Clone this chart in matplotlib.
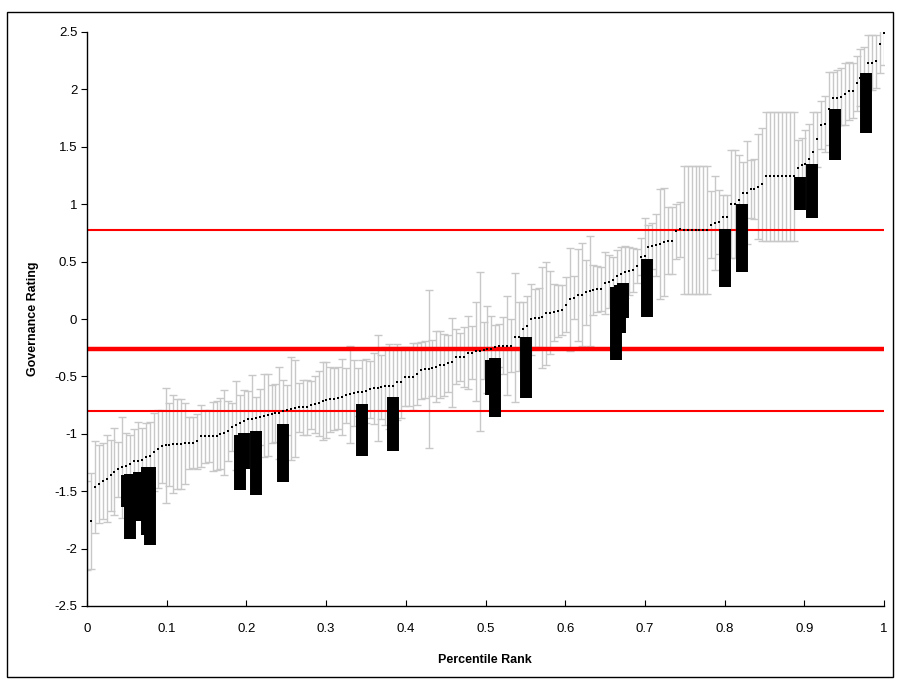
import numpy as np
import matplotlib
matplotlib.use("Agg")
from matplotlib import pyplot as plt
from matplotlib.patches import Rectangle

# governance rating of every country, sorted by rank
ratings = [
    -1.80, -1.76, -1.46, -1.44, -1.41, -1.39, -1.36, -1.33, -1.31, -1.29,
    -1.28, -1.26, -1.24, -1.235, -1.23, -1.20, -1.19, -1.16, -1.13, -1.11,
    -1.10, -1.095, -1.09, -1.09, -1.09, -1.083, -1.08, -1.077, -1.066, -1.02,
    -1.02, -1.02, -1.02, -1.015, -1.00, -0.99, -0.976, -0.94,
    -0.926, -0.903, -0.886, -0.874, -0.868, -0.86, -0.854, -0.842, -0.836, -0.828,
    -0.819, -0.816, -0.804, -0.793, -0.781, -0.778, -0.77, -0.77, -0.77, -0.752,
    -0.743, -0.735, -0.717, -0.706, -0.70, -0.694, -0.688, -0.677, -0.665, -0.656,
    -0.645, -0.639, -0.636, -0.625, -0.613, -0.604, -0.60, -0.592, -0.584, -0.584,
    -0.584, -0.552, -0.552, -0.502, -0.502, -0.502, -0.479, -0.447, -0.438, -0.438,
    -0.427, -0.415, -0.398, -0.398, -0.386, -0.378, -0.328, -0.328, -0.328, -0.293,
    -0.293, -0.282, -0.282, -0.273, -0.264, -0.261, -0.241, -0.232, -0.232, -0.232,
    -0.232, -0.16, -0.154, -0.09, -0.061, -0.003, 0.009,
    0.012, 0.017, 0.05, 0.055, 0.058, 0.07, 0.078, 0.125, 0.171, 0.186,
    0.212, 0.212, 0.232, 0.241, 0.253, 0.261, 0.264, 0.314, 0.325, 0.34,
    0.375, 0.389, 0.409, 0.418, 0.427, 0.464, 0.543, 0.551, 0.627, 0.636,
    0.645, 0.656, 0.671, 0.682, 0.682, 0.764, 0.781,
    0.778, 0.778, 0.778, 0.778, 0.778, 0.778, 0.778, 0.822, 0.839, 0.842,
    0.886, 0.886, 1.004, 1.004, 1.037, 1.10, 1.10, 1.132, 1.132, 1.153,
    1.173, 1.243, 1.243, 1.243, 1.243, 1.243, 1.243, 1.243, 1.243, 1.318,
    1.339, 1.348, 1.396, 1.452, 1.565,
    1.687, 1.699, 1.832, 1.925, 1.925, 1.937, 1.957, 1.986, 1.989, 2.053,
    2.102, 2.12, 2.233, 2.233, 2.245, 2.393, 2.494,
]

# half length of each country's confidence interval
margins = [
    0.39, 0.42, 0.40, 0.34, 0.33, 0.376, 0.31, 0.38, 0.24, 0.44,
    0.29, 0.25, 0.28, 0.34, 0.28, 0.29, 0.29, 0.34, 0.34, 0.32,
    0.50, 0.36, 0.43, 0.39, 0.39, 0.35, 0.23, 0.225, 0.24, 0.27,
    0.23, 0.225, 0.30, 0.30, 0.31, 0.37, 0.26, 0.21,
    0.39, 0.24, 0.27, 0.25, 0.38, 0.18, 0.24, 0.36, 0.36, 0.25,
    0.25, 0.40, 0.27, 0.22, 0.45, 0.42, 0.21, 0.24, 0.24, 0.21,
    0.25, 0.28, 0.34, 0.33, 0.28, 0.27, 0.27, 0.33, 0.24, 0.42,
    0.29, 0.21, 0.28, 0.28, 0.25, 0.31, 0.46, 0.28, 0.34, 0.37,
    0.34, 0.33, 0.31, 0.26, 0.26, 0.29, 0.27, 0.25, 0.25, 0.69,
    0.24, 0.31, 0.29, 0.27, 0.25, 0.39, 0.24, 0.21, 0.26, 0.32,
    0.23, 0.43, 0.69, 0.25, 0.38, 0.29, 0.19, 0.19, 0.25, 0.43,
    0.23, 0.56, 0.30, 0.24, 0.26, 0.31, 0.25,
    0.26, 0.44, 0.45, 0.36, 0.25, 0.23, 0.22, 0.24, 0.45, 0.19,
    0.40, 0.45, 0.28, 0.48, 0.22, 0.20, 0.19, 0.27, 0.23, 0.20,
    0.23, 0.24, 0.23, 0.21, 0.19, 0.15, 0.16, 0.33, 0.19, 0.20,
    0.27, 0.48, 0.47, 0.29, 0.29, 0.24, 0.24,
    0.557, 0.557, 0.557, 0.557, 0.557, 0.557, 0.557, 0.29, 0.41, 0.28,
    0.19, 0.19, 0.47, 0.47, 0.39, 0.27, 0.45, 0.25, 0.26, 0.46,
    0.49, 0.563, 0.563, 0.563, 0.563, 0.563, 0.563, 0.563, 0.563, 0.24,
    0.24, 0.30, 0.30, 0.35, 0.24,
    0.21, 0.24, 0.32, 0.23, 0.24, 0.25, 0.27, 0.25, 0.24, 0.24,
    0.25, 0.25, 0.24, 0.24, 0.23, 0.25, 0.28,
]

# highlighted countries: percentile rank and interval
hl_rank = [0.0502, 0.054, 0.0656, 0.0753, 0.079, 0.192, 0.197, 0.212, 0.246,
           0.345, 0.3835, 0.507, 0.512, 0.551, 0.664, 0.669, 0.6725, 0.7026,
           0.800, 0.8218, 0.8946, 0.9097, 0.9385, 0.9774]
hl_top = [-1.36, -1.35, -1.335, -1.29, -1.29, -1.01, -0.996, -0.976, -0.915,
          -0.74, -0.68, -0.357, -0.337, -0.157, 0.28, 0.296, 0.314, 0.523,
          0.784, 1.002, 1.24, 1.35, 1.829, 2.146]
hl_bottom = [-1.64, -1.92, -1.76, -1.88, -1.97, -1.49, -1.307, -1.533, -1.417,
             -1.19, -1.147, -0.662, -0.851, -0.685, -0.357, -0.119, 0.011, 0.02,
             0.281, 0.412, 0.952, 0.882, 1.388, 1.623]

ref_levels = [0.775, -0.265, -0.80]
ref_widths = [1.5, 3.2, 1.5]

x_ticks = [0, 0.1, 0.2, 0.3, 0.4, 0.5, 0.6, 0.7, 0.8, 0.9, 1]
x_labels = ["0", "0.1", "0.2", "0.3", "0.4", "0.5", "0.6", "0.7", "0.8", "0.9", "1"]
y_ticks = [2.5, 2, 1.5, 1, 0.5, 0, -0.5, -1, -1.5, -2, -2.5]
y_labels = ["2.5", "2", "1.5", "1", "0.5", "0", "-0.5", "-1", "-1.5", "-2", "-2.5"]

plt.rcParams["font.family"] = ["Liberation Sans", "DejaVu Sans"]
plt.rcParams["axes.unicode_minus"] = False

W, H = 898, 681
fig = plt.figure(figsize=(W / 100, H / 100), dpi=100)
ax = fig.add_axes([87 / W, 75 / H, 797 / W, 574 / H])

n = len(ratings)
ranks = np.arange(n) / (n - 1)

ax.errorbar(ranks, ratings, yerr=margins, fmt="none", ecolor="#c8c8c8",
            elinewidth=1.0, capsize=3, capthick=1.0, zorder=1)
for level, lw in zip(ref_levels, ref_widths):
    ax.axhline(level, color="#ff0000", lw=lw, zorder=2)
ax.plot(ranks, ratings, "s", color="black", markersize=1.9, markeredgewidth=0,
        zorder=3)
ax.vlines(hl_rank, hl_bottom, hl_top, color="black", lw=8.6, capstyle="butt",
          zorder=4)

ax.set_xlim(0, 1)
ax.set_ylim(-2.5, 2.5)
ax.set_xticks(x_ticks)
ax.set_xticklabels(x_labels)
ax.set_yticks(y_ticks)
ax.set_yticklabels(y_labels)
ax.tick_params(axis="x", direction="in", length=4, width=0.8, pad=12, labelsize=9.5)
ax.tick_params(axis="y", direction="out", length=4, width=0.8, pad=3, labelsize=9.5)
for side in ["top", "right"]:
    ax.spines[side].set_visible(False)
for side in ["left", "bottom"]:
    ax.spines[side].set_linewidth(1.0)

fig.text(485 / W, 1 - 660 / H, "Percentile Rank", ha="center", va="center",
         fontsize=9, fontweight="bold")
fig.text(33 / W, 1 - 319 / H, "Governance Rating", ha="center", va="center",
         rotation=90, fontsize=9, fontweight="bold")

fig.patches.append(Rectangle((7 / W, 4 / H), 886 / W, 665 / H, fill=False,
                             edgecolor="black", lw=1.0,
                             transform=fig.transFigure))

fig.savefig("out.png", dpi=100)
